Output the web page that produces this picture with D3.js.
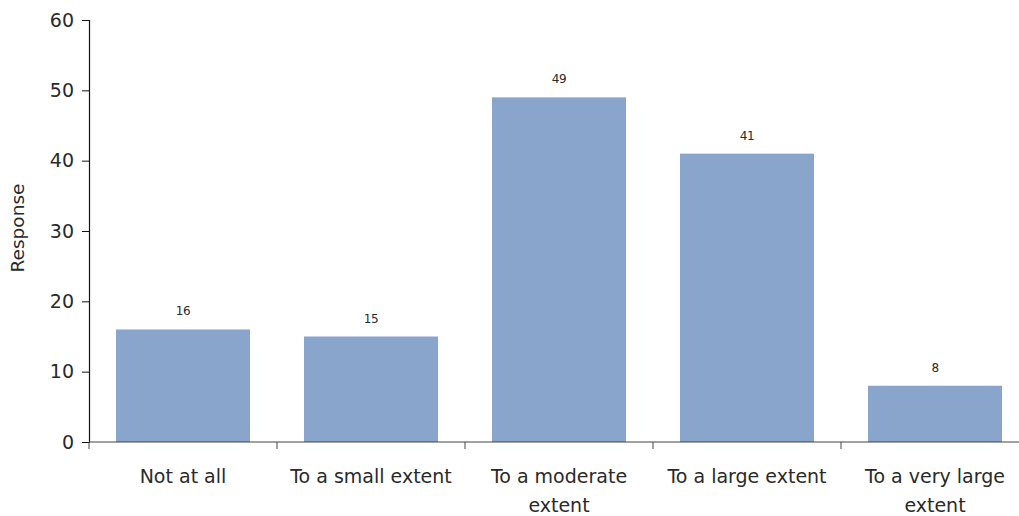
<!DOCTYPE html>
<html>
<head>
<meta charset="utf-8">
<script src="https://cdn.jsdelivr.net/npm/d3@7"></script>
<style>
  html, body { margin: 0; padding: 0; background: #fff; }
  svg { display: block; }
  text { font-family: "DejaVu Sans", "Liberation Sans", Arial, sans-serif; fill: #2a2a2a; }
</style>
</head>
<body>
<svg id="chart" width="1019" height="516"></svg>
<script>
// Survey responses by category
const categories = ["Not at all", "To a small extent", "To a moderate extent", "To a large extent", "To a very large extent"];
const categoryLines = [["Not at all"], ["To a small extent"], ["To a moderate", "extent"], ["To a large extent"], ["To a very large", "extent"]];
const responses = [16, 15, 49, 41, 8];
const yTicks = [0, 10, 20, 30, 40, 50, 60];

const svg = d3.select("#chart");
const margin = { left: 89, top: 20, bottom: 442, right: 1029 };
const fontFamily = "DejaVu Sans, Liberation Sans, Arial, sans-serif";

const x = d3.scaleBand()
  .domain(categories)
  .range([margin.left, margin.right])
  .paddingInner(0.287)
  .paddingOuter(0.1435);

const y = d3.scaleLinear()
  .domain([0, 60])
  .range([margin.bottom, margin.top]);

// bars
svg.append("g")
  .selectAll("rect")
  .data(responses)
  .join("rect")
  .attr("x", (d, i) => x(categories[i]))
  .attr("y", d => y(d))
  .attr("width", x.bandwidth())
  .attr("height", d => y(0) - y(d))
  .attr("fill", "#8aa5cb");

// value labels
svg.append("g")
  .selectAll("text")
  .data(responses)
  .join("text")
  .attr("x", (d, i) => x(categories[i]) + x.bandwidth() / 2)
  .attr("y", d => y(d) - 14)
  .attr("text-anchor", "middle")
  .attr("font-size", 12)
  .attr("letter-spacing", -0.5)
  .text(d => d);

// y axis
const yAxis = svg.append("g")
  .attr("transform", `translate(${margin.left},0)`)
  .call(d3.axisLeft(y).tickValues(yTicks).tickSize(7).tickPadding(8));
yAxis.select(".domain").attr("stroke", "#111").attr("stroke-width", 1.2);
yAxis.selectAll(".tick line").attr("stroke", "#111");
yAxis.selectAll(".tick text")
  .attr("font-size", 19)
  .attr("font-family", fontFamily)
  .attr("fill", "#2a2a2a");

// x axis: ticks at the band boundaries
const step = x.step();
const boundaries = d3.range(categories.length + 1).map(i => margin.left + i * step);
const xAxis = svg.append("g");
xAxis.append("line")
  .attr("x1", margin.left).attr("x2", margin.right)
  .attr("y1", y(0)).attr("y2", y(0))
  .attr("stroke", "#444").attr("stroke-width", 1.2);
xAxis.selectAll("line.tk")
  .data(boundaries)
  .join("line")
  .attr("class", "tk")
  .attr("x1", d => d).attr("x2", d => d)
  .attr("y1", y(0)).attr("y2", y(0) + 7)
  .attr("stroke", "#444");

// category labels
const lab = svg.append("g")
  .selectAll("text")
  .data(categoryLines)
  .join("text")
  .attr("x", (d, i) => x(categories[i]) + x.bandwidth() / 2)
  .attr("y", 483)
  .attr("text-anchor", "middle")
  .attr("font-size", 19);
lab.selectAll("tspan")
  .data(d => d)
  .join("tspan")
  .attr("x", function () { return this.parentNode.getAttribute("x"); })
  .attr("dy", (d, i) => i === 0 ? 0 : 29)
  .text(d => d);

// y axis title
svg.append("text")
  .attr("transform", `translate(24,${(y(0) + y(60)) / 2 - 3}) rotate(-90)`)
  .attr("text-anchor", "middle")
  .attr("font-size", 18.5)
  .text("Response");
</script>
</body>
</html>
